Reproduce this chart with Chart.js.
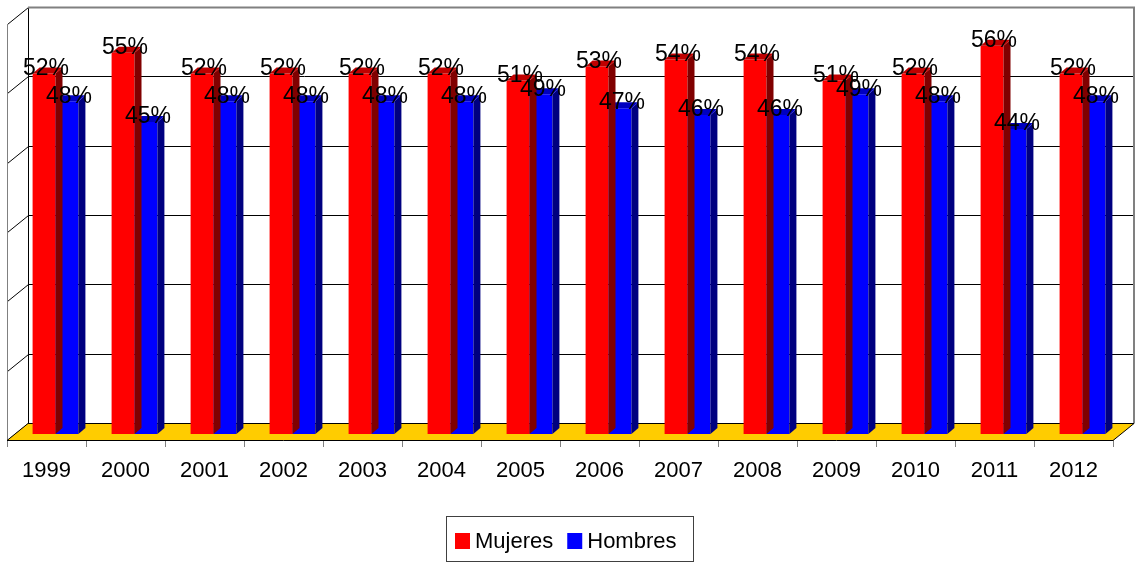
<!DOCTYPE html>
<html>
<head>
<meta charset="utf-8">
<script src="https://cdn.jsdelivr.net/npm/chart.js@4.4.0/dist/chart.umd.min.js"></script>
<style>
  html, body { margin: 0; padding: 0; background: #fff; }
  #wrap { width: 1139px; height: 562px; }
</style>
</head>
<body>
<div id="wrap"><canvas id="chart"></canvas></div>
<script>
// datos
const years = ['1999', '2000', '2001', '2002', '2003', '2004', '2005', '2006', '2007', '2008', '2009', '2010', '2011', '2012'];
const mujeres = [52, 55, 52, 52, 52, 52, 51, 53, 54, 54, 51, 52, 56, 52];
const hombres = [48, 45, 48, 48, 48, 48, 49, 47, 46, 46, 49, 48, 44, 48];
const yTicks = [0, 10, 20, 30, 40, 50, 60];

// efecto 3D: profundidad de la pared y de las barras
const WALL_DX = 21, WALL_DY = -17;
const BAR_SHIFT_X = 9, BAR_SHIFT_Y = -6;
const SIDE_DX = 7, SIDE_DY = -6;
const shades = [
    { front: '#FF0000', side: '#800000', top: '#C00000' },
    { front: '#0000FF', side: '#000080', top: '#0000C0' }
];

const fake3d = {
    id: 'fake3d',
    beforeDatasetsDraw(chart) {
        const { ctx, chartArea: a, scales: { y } } = chart;
        const bottom = y.getPixelForValue(0);
        ctx.save();
        // pared del fondo: lineas de division
        ctx.strokeStyle = '#000';
        ctx.lineWidth = 1;
        yTicks.forEach(v => {
            const yf = Math.round(y.getPixelForValue(v)) + 0.5;
            const yb = yf + WALL_DY;
            ctx.beginPath();
            ctx.moveTo(a.left + WALL_DX, yb);
            ctx.lineTo(a.right + WALL_DX, yb);
            ctx.stroke();
            ctx.beginPath();
            ctx.moveTo(a.left + 0.5, yf);
            ctx.lineTo(a.left + WALL_DX + 0.5, yb);
            ctx.stroke();
        });
        const topB = Math.round(y.getPixelForValue(60)) + WALL_DY + 0.5;
        const botB = Math.round(bottom) + WALL_DY + 0.5;
        ctx.beginPath();
        ctx.moveTo(a.left + WALL_DX + 0.5, topB);
        ctx.lineTo(a.left + WALL_DX + 0.5, botB);
        ctx.stroke();
        // bordes grises
        ctx.strokeStyle = '#808080';
        ctx.lineWidth = 2;
        ctx.beginPath();
        ctx.moveTo(a.left + WALL_DX, topB);
        ctx.lineTo(a.right + WALL_DX, topB);
        ctx.lineTo(a.right + WALL_DX, botB);
        ctx.stroke();
        ctx.lineWidth = 1;
        ctx.beginPath();
        ctx.moveTo(a.left + 0.5, topB - WALL_DY);
        ctx.lineTo(a.left + 0.5, Math.round(bottom) + 2);
        ctx.stroke();
        // piso amarillo
        const yf0 = Math.round(bottom) + 0.5;
        ctx.beginPath();
        ctx.moveTo(a.left, yf0);
        ctx.lineTo(a.right, yf0);
        ctx.lineTo(a.right + WALL_DX, yf0 + WALL_DY);
        ctx.lineTo(a.left + WALL_DX, yf0 + WALL_DY);
        ctx.closePath();
        ctx.fillStyle = '#FFCC00';
        ctx.fill();
        ctx.strokeStyle = '#000';
        ctx.stroke();
        ctx.restore();

        ctx.save();
        ctx.translate(BAR_SHIFT_X, BAR_SHIFT_Y);
    },
    afterDatasetDraw(chart, args) {
        const { ctx } = chart;
        const c = shades[args.index];
        args.meta.data.forEach(bar => {
            const l = bar.x - bar.width / 2, r = bar.x + bar.width / 2;
            const t = bar.y, b = bar.base;
            ctx.fillStyle = c.side;
            ctx.beginPath();
            ctx.moveTo(r, t);
            ctx.lineTo(r + SIDE_DX, t + SIDE_DY);
            ctx.lineTo(r + SIDE_DX, b + SIDE_DY);
            ctx.lineTo(r, b);
            ctx.closePath();
            ctx.fill();
            ctx.fillStyle = c.top;
            ctx.beginPath();
            ctx.moveTo(l, t);
            ctx.lineTo(l + SIDE_DX, t + SIDE_DY);
            ctx.lineTo(r + SIDE_DX, t + SIDE_DY);
            ctx.lineTo(r, t);
            ctx.closePath();
            ctx.fill();
        });
    },
    afterDatasetsDraw(chart) {
        const { ctx } = chart;
        ctx.restore();
        // etiquetas de valor
        ctx.save();
        ctx.font = "23px 'Liberation Sans', Arial, sans-serif";
        ctx.fillStyle = '#000';
        ctx.textAlign = 'center';
        ctx.textBaseline = 'middle';
        chart.data.datasets.forEach((ds, i) => {
            chart.getDatasetMeta(i).data.forEach((bar, j) => {
                ctx.fillText(ds.data[j] + '%', bar.x + BAR_SHIFT_X + 2, bar.y + BAR_SHIFT_Y - 5);
            });
        });
        ctx.restore();
    },
    afterDraw(chart) {
        // leyenda con recuadro
        const { ctx } = chart;
        ctx.save();
        ctx.strokeStyle = '#404040';
        ctx.lineWidth = 1;
        ctx.strokeRect(446.5, 516.5, 247, 45);
        ctx.font = "22px 'Liberation Sans', Arial, sans-serif";
        ctx.textBaseline = 'alphabetic';
        ctx.textAlign = 'left';
        let x = 455;
        chart.data.datasets.forEach(ds => {
            ctx.fillStyle = ds.backgroundColor;
            ctx.fillRect(x, 533, 15, 16);
            ctx.fillStyle = '#000';
            ctx.fillText(ds.label, x + 20, 548);
            x += 20 + ctx.measureText(ds.label).width + 14;
        });
        ctx.restore();
    }
};

new Chart(document.getElementById('chart'), {
    type: 'bar',
    data: {
        labels: years,
        datasets: [
            { label: 'Mujeres', data: mujeres, backgroundColor: '#FF0000', clip: false },
            { label: 'Hombres', data: hombres, backgroundColor: '#0000FF', clip: false }
        ]
    },
    options: {
        responsive: true,
        maintainAspectRatio: false,
        animation: false,
        categoryPercentage: 0.58,
        barPercentage: 1,
        layout: { padding: { left: 7, right: 26, top: 24, bottom: 0 } },
        plugins: {
            legend: { display: false },
            tooltip: { enabled: false }
        },
        scales: {
            x: {
                grid: { drawOnChartArea: false, drawTicks: true, tickLength: 7, color: '#808080', offset: true },
                border: { display: false },
                ticks: { font: { family: "'Liberation Sans', Arial, sans-serif", size: 22 }, color: '#000', padding: 11, maxRotation: 0 },
                afterFit: (axis) => { axis.height = 122; }
            },
            y: {
                display: false,
                min: 0,
                max: 60,
                ticks: { stepSize: 10 }
            }
        }
    },
    plugins: [fake3d]
});
</script>
</body>
</html>
